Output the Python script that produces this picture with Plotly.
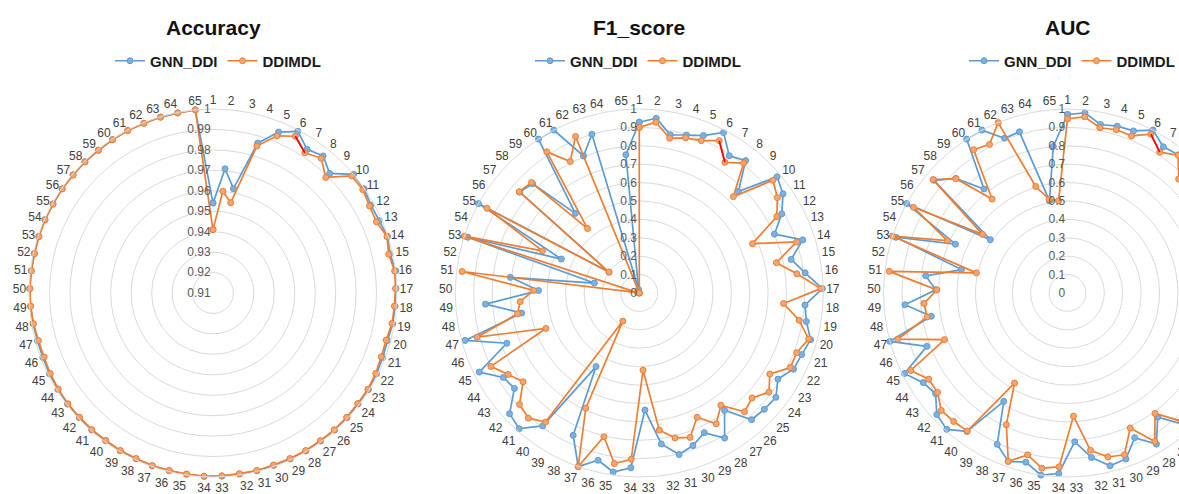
import plotly.graph_objects as go

categories = [str(i) for i in range(1, 66)]

acc_gnn = [
    0.954, 0.971, 0.962, 0.9865, 0.995, 0.9993, 0.994, 0.996, 0.9917, 1.0,
    0.9998, 0.9984, 0.9987, 0.9997, 0.9987, 1.0, 0.9995, 0.9993, 0.9992, 0.9985,
    0.9988, 0.9992, 0.9995, 0.9993, 0.9995, 0.9996, 0.9995, 0.9996, 0.9995, 0.9994,
    0.9996, 0.9995, 0.9997, 0.9998, 0.9996, 0.9995, 0.9996, 0.9994, 0.9995, 0.9993,
    0.9995, 0.9994, 0.9995, 0.9993, 0.9992, 0.9990, 0.9990, 0.9993, 0.9995, 0.9997,
    0.9996, 0.9995, 0.9996, 0.9997, 0.9996, 0.9997, 0.9996, 0.9997, 0.9996, 0.9997,
    0.9998, 0.9997, 0.9998, 0.9998, 1.0]
acc_ddimdl = [
    0.941, 0.960, 0.955, 0.985, 0.993, 0.9966, 0.992, 0.9945, 0.989, 0.9988,
    0.999, 0.9976, 0.9972, 0.9995, 0.998, 0.9995, 0.9993, 0.9990, 0.9988, 0.9978,
    0.9980, 0.9988, 0.9992, 0.9991, 0.9993, 0.9994, 0.9993, 0.9994, 0.9993, 0.9992,
    0.9994, 0.9993, 0.9995, 0.9997, 0.9995, 0.9994, 0.9995, 0.9993, 0.9994, 0.9992,
    0.9993, 0.9992, 0.9993, 0.9991, 0.9988, 0.9984, 0.9985, 0.9991, 0.9994, 0.9996,
    0.9995, 0.9994, 0.9995, 0.9996, 0.9995, 0.9996, 0.9995, 0.9996, 0.9995, 0.9996,
    0.9997, 0.9996, 0.9997, 0.9997, 1.0]

f1_gnn = [
    0.928, 0.954, 0.876, 0.896, 0.924, 0.985, 0.892, 0.923, 0.771, 0.979,
    0.949, 0.886, 0.801, 0.934, 0.845, 0.908, 0.995, 0.903, 0.921, 0.965,
    0.944, 0.935, 0.887, 0.934, 0.928, 0.92, 0.788, 0.915, 0.837, 0.879,
    0.904, 0.829, 0.637, 0.951, 0.983, 0.936, 1.0, 0.853, 0.464, 0.893,
    0.985, 0.963, 0.854, 0.87, 0.97, 0.77, 0.981, 0.649, 0.838, 0.548,
    0.706, 0.25, 0.98, 0.462, 1.0, 0.2, 0.85, 0.83, 0.555, 1.0,
    1.0, 0.804, 0.9, 0.02, 0.755]
f1_ddimdl = [
    0.90, 0.932, 0.857, 0.88, 0.894, 0.935, 0.849, 0.906, 0.732, 0.95,
    0.912, 0.855, 0.671, 0.899, 0.763, 0.863, 0.986, 0.786, 0.881, 0.954,
    0.915, 0.915, 0.835, 0.887, 0.837, 0.862, 0.754, 0.825, 0.745, 0.832,
    0.811, 0.753, 0.42, 0.905, 0.937, 0.804, 1.0, 0.69, 0.177, 0.867,
    0.909, 0.889, 0.795, 0.839, 0.9, 0.543, 0.914, 0.671, 0.649, 0.575,
    0.97, 0.01, 1.0, 0.574, 0.947, 0.2, 0.854, 0.839, 0.449, 0.917,
    0.807, 0.919, 0.0, 0.0, 0.0]

auc_gnn = [
    0.97, 0.984, 0.933, 0.946, 0.951, 1.0, 0.95, 0.963, 0.89, 0.99,
    0.975, 0.94, 0.9, 0.965, 0.92, 0.955, 0.998, 0.95, 0.96, 0.985,
    0.97, 0.965, 0.94, 0.965, 0.96, 0.955, 0.834, 0.953, 0.867, 0.956,
    0.967, 0.904, 0.809, 0.982, 1.0, 0.947, 0.97, 0.907, 0.683, 0.93,
    0.99, 0.97, 0.902, 0.923, 0.988, 0.818, 1.0, 0.751, 0.886, 0.716,
    0.776, 0.59, 0.98, 0.664, 1.0, 0.51, 0.95, 0.87, 0.725, 1.0,
    1.0, 0.908, 0.914, 0.51, 0.80]
auc_ddimdl = [
    0.947, 0.962, 0.915, 0.926, 0.922, 0.975, 0.915, 0.96, 0.865, 0.975,
    0.955, 0.925, 0.83, 0.95, 0.88, 0.93, 0.993, 0.89, 0.94, 0.975,
    0.955, 0.955, 0.915, 0.94, 0.915, 0.93, 0.809, 0.936, 0.809, 0.932,
    0.918, 0.864, 0.67, 0.946, 0.962, 0.906, 0.97, 0.789, 0.568, 0.927,
    0.933, 0.937, 0.889, 0.888, 0.95, 0.715, 0.956, 0.774, 0.782, 0.71,
    0.976, 0.507, 1.0, 0.712, 0.958, 0.561, 0.956, 0.868, 0.655, 0.931,
    0.912, 1.0, 0.604, 0.52, 0.504]

titles = ["Accuracy", "F1_score", "AUC"]
series_names = ["GNN_DDI", "DDIMDL"]

BLUE = "#5B9BD5"
ORANGE = "#ED7D31"
FONT = "Liberation Sans, Arial, sans-serif"
W, H = 1290, 494
R = 184
CY = 293
centers = [213, 639.3, 1067.5]
legend_x = [218, 638, 1072]
radial_ranges = [[0.91, 1.0], [0, 1.0], [0, 1.0]]
radial_dticks = [0.01, 0.1, 0.1]

data_sets = [(acc_gnn, acc_ddimdl), (f1_gnn, f1_ddimdl), (auc_gnn, auc_ddimdl)]

fig = go.Figure()
for i, (g, d) in enumerate(data_sets):
    pname = "polar" if i == 0 else f"polar{i+1}"
    lname = "legend" if i == 0 else f"legend{i+1}"
    th = categories + categories[:1]
    fig.add_trace(go.Scatterpolar(
        r=g + g[:1], theta=th, mode="lines+markers", name="<b>" + series_names[0] + "</b>",
        line=dict(color=BLUE, width=1.7),
        marker=dict(size=6, color="#7FB0DE", line=dict(color=BLUE, width=1)),
        subplot=pname, legend=lname))
    fig.add_trace(go.Scatterpolar(
        r=d + d[:1], theta=th, mode="lines+markers", name="<b>" + series_names[1] + "</b>",
        line=dict(color=ORANGE, width=1.7),
        marker=dict(size=6, color="#F4A672", line=dict(color=ORANGE, width=1)),
        subplot=pname, legend=lname))
    # small red highlighted segment between categories 6 and 7 of DDIMDL
    fig.add_trace(go.Scatterpolar(
        r=d[5:7], theta=categories[5:7], mode="lines",
        line=dict(color="#FF0000", width=1.7), showlegend=False,
        hoverinfo="skip", subplot=pname))

    cx = centers[i]
    fig.update_layout(**{
        pname: dict(
            domain=dict(x=[(cx - R) / W, (cx + R) / W],
                        y=[(H - CY - R) / H, (H - CY + R) / H]),
            bgcolor="rgba(0,0,0,0)",
            angularaxis=dict(
                type="category", categoryorder="array", categoryarray=categories,
                direction="clockwise", rotation=90,
                showgrid=False, showline=True, linecolor="#D9D9D9", linewidth=1,
                ticks="", tickfont=dict(family=FONT, size=12, color="#404040"),
            ),
            radialaxis=dict(
                range=radial_ranges[i], dtick=radial_dticks[i], tick0=radial_ranges[i][0],
                angle=90, tickangle=90, side="counterclockwise",
                showline=False, ticks="", gridcolor="#D9D9D9", gridwidth=1,
                tickfont=dict(family=FONT, size=12, color="#595959"),
            ),
        ),
        lname: dict(
            orientation="h", x=legend_x[i] / W, xanchor="center",
            y=1 - 61 / H, yanchor="middle",
            font=dict(family=FONT, size=15, color="#1a1a1a"),
            bgcolor="rgba(0,0,0,0)", itemwidth=30,
        ),
    })
    fig.add_annotation(
        text="<b>" + titles[i] + "</b>", x=cx / W, y=1 - 28 / H,
        xref="paper", yref="paper", xanchor="center", yanchor="middle",
        showarrow=False, font=dict(family=FONT, size=21, color="#111111"))

fig.update_layout(
    width=W, height=H, margin=dict(l=0, r=0, t=0, b=0),
    paper_bgcolor="white", plot_bgcolor="white", showlegend=True,
)

fig.write_html(
    "out.html",
    config={"displayModeBar": False},
    post_script="document.body.style.overflow='hidden';document.documentElement.style.overflow='hidden';document.body.style.margin='0';",
)
